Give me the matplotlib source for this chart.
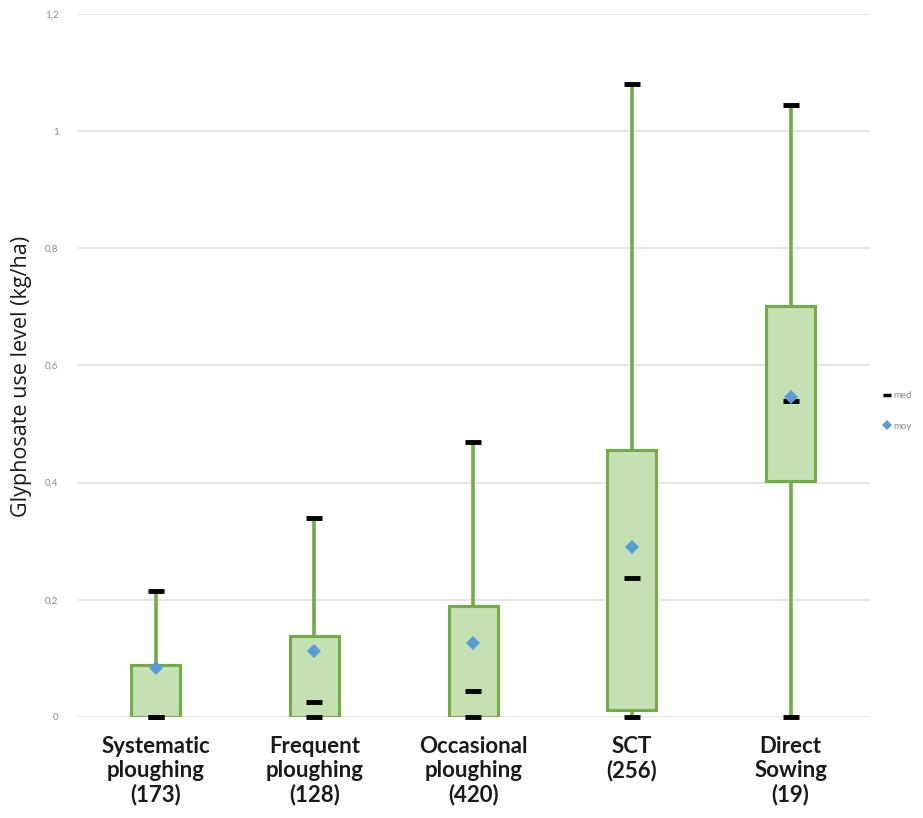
import matplotlib
matplotlib.use("Agg")
import matplotlib.pyplot as plt
from matplotlib.lines import Line2D

plt.rcParams['font.family'] = ['Lato', 'DejaVu Sans']

# Tillage categories and their summary statistics (kg/ha)
categories = ["Systematic\nploughing\n(173)", "Frequent\nploughing\n(128)",
              "Occasional\nploughing\n(420)", "SCT\n(256)", "Direct\nSowing\n(19)"]
minimum = [0.0, 0.0, 0.0, 0.0, 0.0]
q1 = [0.0, 0.0, 0.0, 0.012, 0.403]
median = [0.0, 0.026, 0.044, 0.237, 0.539]
q3 = [0.089, 0.138, 0.19, 0.456, 0.702]
maximum = [0.215, 0.34, 0.469, 1.081, 1.045]
mean = [0.084, 0.113, 0.126, 0.29, 0.546]

yticks = [0, 0.2, 0.4, 0.6, 0.8, 1.0, 1.2]
ytick_labels = ["0", "0,2", "0,4", "0,6", "0,8", "1", "1,2"]

fill_green = "#c5e0b3"
edge_green = "#70ad47"
mean_blue = "#5b9bd5"

fig = plt.figure(figsize=(9.23, 8.18), dpi=100)
ax = fig.add_axes([0.0845, 0.1235, 0.858, 0.8594])

x = list(range(len(categories)))

# whiskers
ax.vlines(x, minimum, maximum, color=edge_green, lw=2.6, zorder=2)
# boxes
ax.bar(x, [b - a for a, b in zip(q1, q3)], bottom=q1, width=0.31,
       color=fill_green, edgecolor=edge_green, linewidth=2.2, zorder=3)
# caps at min / max and the median
ax.plot(x, maximum, ls="none", marker="_", ms=12, mew=3.5, color="black",
        zorder=4, clip_on=False)
ax.plot(x, minimum, ls="none", marker="_", ms=12, mew=3.5, color="black",
        zorder=4, clip_on=False)
ax.plot(x, median, ls="none", marker="_", ms=12, mew=3.5, color="black",
        zorder=5, clip_on=False)
# mean
ax.plot(x, mean, ls="none", marker="D", ms=7, color=mean_blue, mew=0,
        zorder=6, clip_on=False)

ax.set_xlim(-0.49, 4.5)
ax.set_ylim(0, 1.2)
ax.set_yticks(yticks)
ax.set_yticklabels(ytick_labels, fontsize=7, color="#8c8c8c")
ax.set_xticks(x)
ax.set_xticklabels(categories, fontsize=16, fontweight="bold",
                   color="#1a1a1a", linespacing=1.15)
ax.tick_params(axis="both", length=0)
ax.tick_params(axis="y", pad=14)
ax.tick_params(axis="x", pad=14)
ax.grid(axis="y", color="#e6e6e6", lw=1.4)
ax.set_axisbelow(True)
for s in ax.spines.values():
    s.set_visible(False)

ax.set_ylabel("Glyphosate use level (kg/ha)", fontsize=15.5,
              family=["Open Sans", "DejaVu Sans"], color="#1a1a1a")
ax.yaxis.set_label_coords(-0.058, 0.485)

handles = [Line2D([], [], ls="none", marker="_", ms=6, mew=2.5, color="black"),
           Line2D([], [], ls="none", marker="D", ms=5, mew=0, color=mean_blue)]
fig.legend(handles, ["med", "moy"], loc="upper left",
           bbox_to_anchor=(0.951, 0.53), frameon=False, fontsize=7,
           labelcolor="#8c8c8c", handlelength=0.6, handletextpad=0.3,
           labelspacing=2.2, borderpad=0.2)

fig.savefig("out.png", dpi=100)
